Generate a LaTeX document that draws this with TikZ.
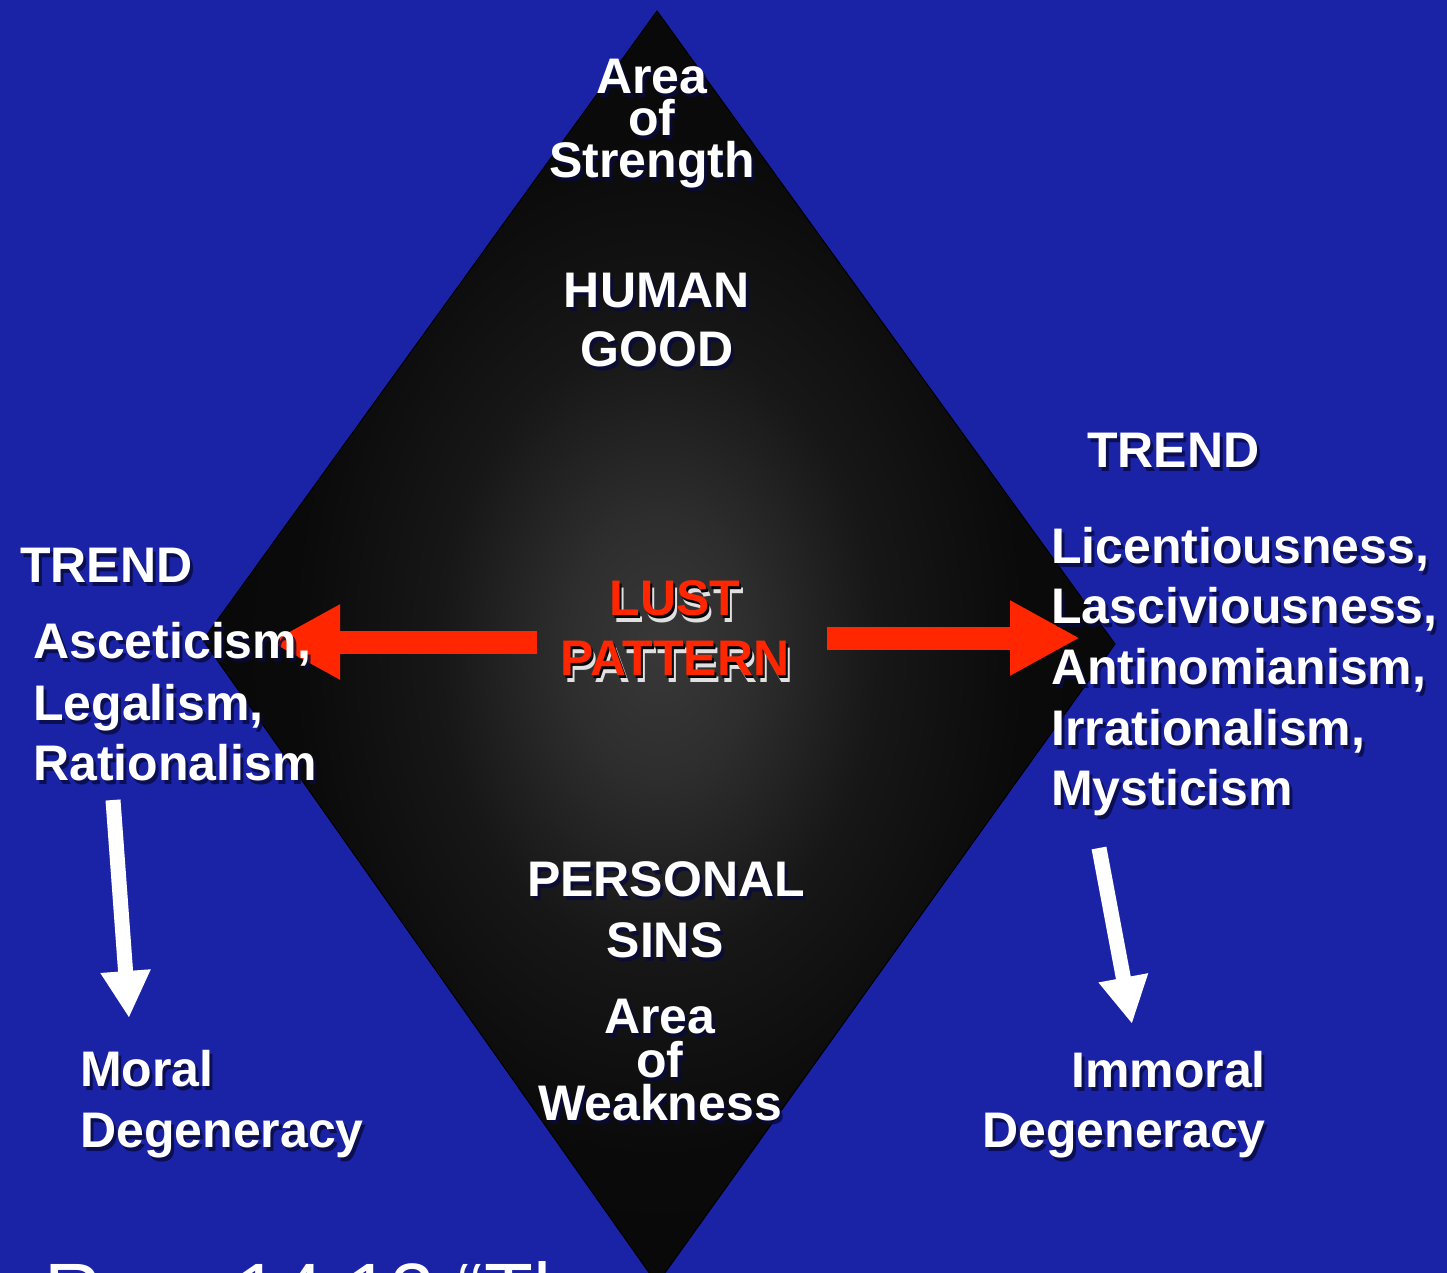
\documentclass[tikz,border=0pt]{standalone}
\usepackage{fontspec}
\setmainfont{Liberation Sans}
\usetikzlibrary{arrows.meta}
\definecolor{bgblue}{RGB}{26,35,166}
\definecolor{lustred}{RGB}{255,38,0}
\definecolor{shadowc}{RGB}{8,10,60}
\pgfdeclareradialshading{diamshade}{\pgfpoint{0bp}{0bp}}{color(0bp)=(black!78!white); color(5bp)=(black!82!white); color(12bp)=(black!91!white); color(20bp)=(black!96!white); color(28bp)=(black!97!white); color(50bp)=(black!97!white)}
\tikzset{
  bigfont/.style={font=\fontsize{50}{60}\selectfont\bfseries},
  lbl/.style={bigfont, text=white, inner sep=0pt},
  lblshadow/.style={bigfont, text=shadowc, inner sep=0pt, opacity=0.8},
  diamondbox/.style={shading=diamshade, draw=black, line width=1pt, line join=miter},
  redarrow/.style={draw=lustred, line width=23pt, -{Triangle[length=70pt,width=70pt]}},
  whitearrow/.style={draw=white, line width=15pt, -{Triangle[length=47pt,width=47pt]}},
  lustlbl/.style={bigfont, text=lustred, inner sep=0pt},
}
% #1 name, #2 anchor, #3 x, #4 baseline y, #5 text
\newcommand\shtxt[5]{%
  \node[lblshadow, anchor=#2] at (#3+3,#4+4) {#5};
  \node[lbl, anchor=#2] (#1) at (#3,#4) {#5};
}
\newcommand\lusttxt[4]{%
  \node[bigfont, text=white!88!black, inner sep=0pt, anchor=base] at (#2+4,#3+7) {#4};
  \node[bigfont, text=black, inner sep=0pt, anchor=base] at (#2+2,#3+3) {#4};
  \node[lustlbl, anchor=base] (#1) at (#2,#3) {#4};
}
\begin{document}
\begin{tikzpicture}[x=1pt,y=-1pt]
  \useasboundingbox (0,0) rectangle (1447,1273);
  \clip (0,0) rectangle (1447,1273);
  \fill[bgblue] (0,0) rectangle (1447,1273);

  % diamond
  \coordinate (dT) at (657,11);
  \coordinate (dR) at (1115,644);
  \coordinate (dB) at (657,1284);
  \coordinate (dL) at (203,640);
  \path[diamondbox] (dT) -- (dR) -- (dB) -- (dL) -- cycle;

  % texts in the diamond
  \shtxt{st1}{base}{652}{94}{Area}
  \shtxt{st2}{base}{652}{136}{of}
  \shtxt{st3}{base}{652}{178}{Strength}
  \shtxt{hg1}{base}{657}{307}{HUMAN}
  \shtxt{hg2}{base}{657}{366}{GOOD}
  \lusttxt{lp1}{675}{615}{LUST}
  \lusttxt{lp2}{675}{675}{PATTERN}
  \shtxt{ps1}{base}{666}{896}{PERSONAL}
  \shtxt{ps2}{base}{665}{957}{SINS}
  \shtxt{wk1}{base}{660}{1033}{Area}
  \shtxt{wk2}{base}{660}{1077}{of}
  \shtxt{wk3}{base}{660}{1120}{Weakness}

  % red arrows
  \coordinate (lTail) at (537,642);
  \coordinate (lTip) at (270,642);
  \coordinate (rTail) at (827,638);
  \coordinate (rTip) at (1080,638);
  \draw[redarrow] (lTail) -- (lTip);
  \draw[redarrow] (rTail) -- (rTip);

  % white arrows
  \coordinate (lwTail) at (113,800);
  \coordinate (lwTip) at (129,1018);
  \coordinate (rwTail) at (1099,848);
  \coordinate (rwTip) at (1132,1024);
  \draw[whitearrow] (lwTail) -- (lwTip);
  \draw[whitearrow] (rwTail) -- (rwTip);

  % left side
  \shtxt{ltrend}{base west}{20}{582}{TREND}
  \shtxt{la1}{base west}{33}{658}{Asceticism,}
  \shtxt{la2}{base west}{33}{720}{Legalism,}
  \shtxt{la3}{base west}{33}{780}{Rationalism}
  \shtxt{md1}{base west}{80}{1086}{Moral}
  \shtxt{md2}{base west}{80}{1147}{Degeneracy}

  % right side
  \shtxt{rtrend}{base west}{1087}{467}{TREND}
  \shtxt{ra1}{base west}{1051}{563}{Licentiousness,}
  \shtxt{ra2}{base west}{1051}{623}{Lasciviousness,}
  \shtxt{ra3}{base west}{1051}{684}{Antinomianism,}
  \shtxt{ra4}{base west}{1051}{745}{Irrationalism,}
  \shtxt{ra5}{base west}{1051}{805}{Mysticism}
  \shtxt{im1}{base east}{1266}{1087}{Immoral}
  \shtxt{im2}{base east}{1266}{1147}{Degeneracy}

  % cut-off verse line at the bottom
  \node[anchor=base west, font=\fontsize{80}{96}\selectfont, text=white, inner sep=0pt] (verse) at (44,1319) {Rom 14:13 “Th};
\end{tikzpicture}
\end{document}
